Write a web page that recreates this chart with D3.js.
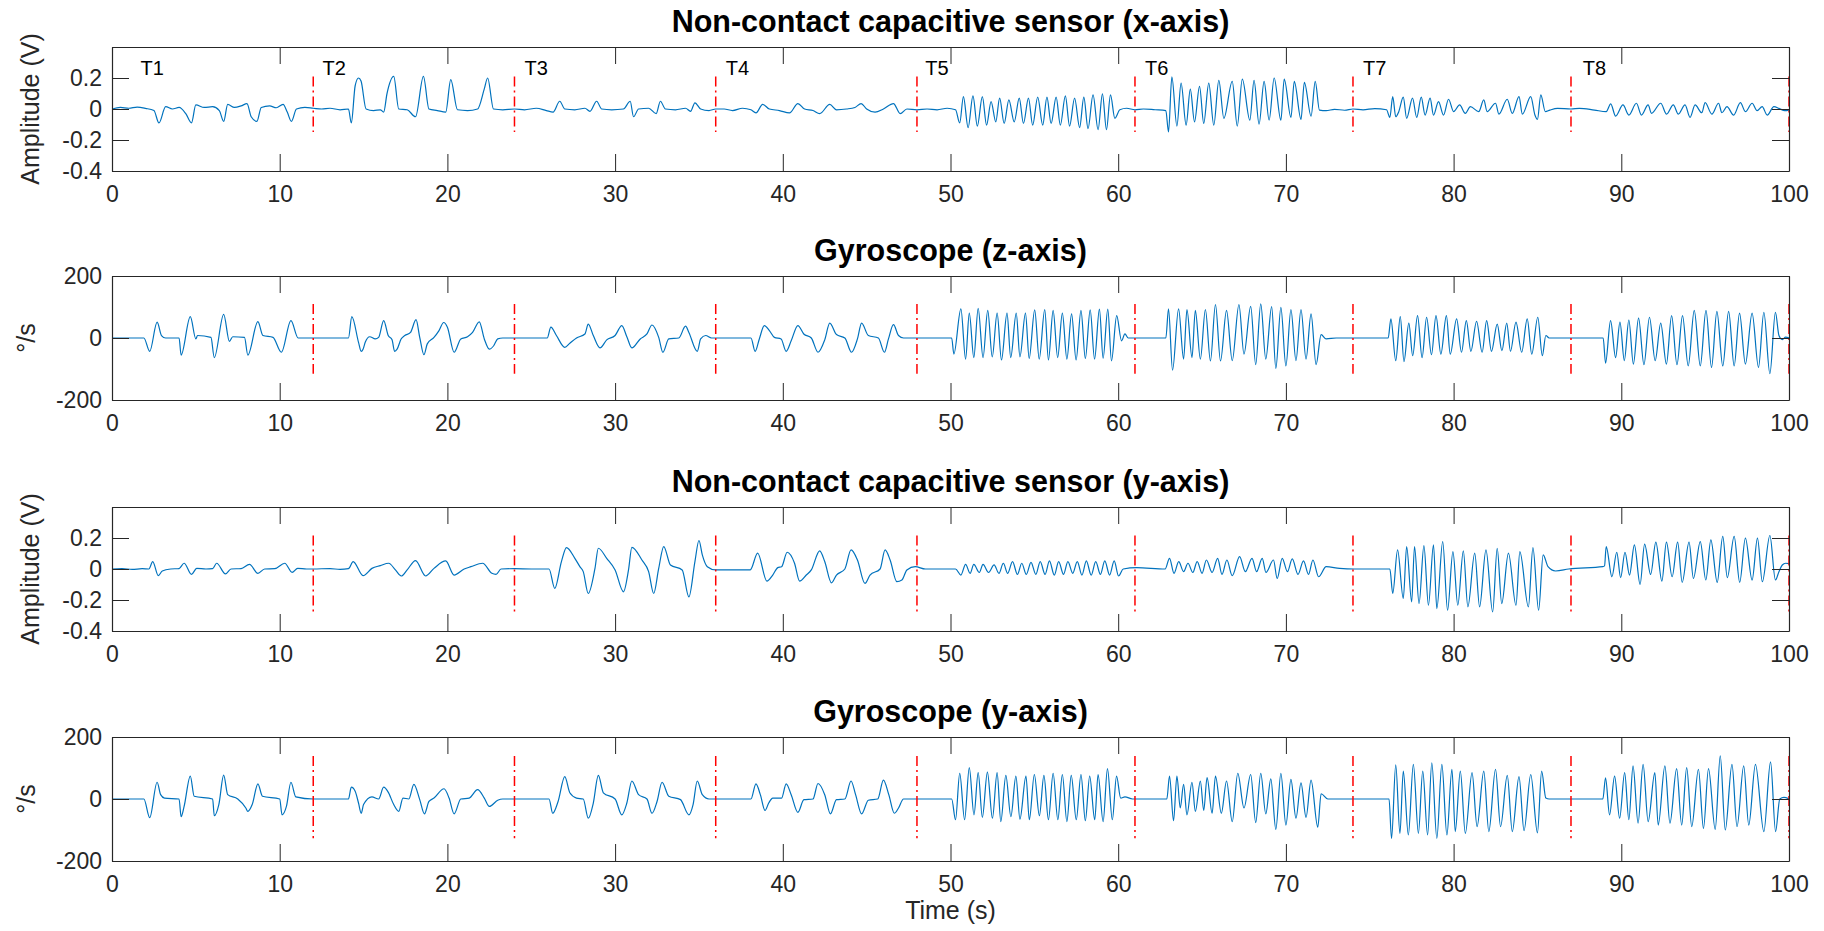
<!DOCTYPE html>
<html>
<head>
<meta charset="utf-8">
<script src="https://cdn.jsdelivr.net/npm/d3@7"></script>
<style>
    body { margin: 0; background: #ffffff; }
    text { font-family: "Liberation Sans", Arial, Helvetica, sans-serif; }
</style>
</head>
<body>
<div id="sensor_chart"></div>
<script>

//time ticks and trial boundaries (s)
const timeTicks = [0, 10, 20, 30, 40, 50, 60, 70, 80, 90, 100];
const trialBounds = [0, 12, 24, 36, 48, 61, 74, 87, 100];
const trialNames = ["T1", "T2", "T3", "T4", "T5", "T6", "T7", "T8"];
const trialNameX = [1.7, 12.55, 24.6, 36.6, 48.5, 61.6, 74.6, 87.7];

const panelTitles = [
    "Non-contact capacitive sensor (x-axis)",
    "Gyroscope (z-axis)",
    "Non-contact capacitive sensor (y-axis)",
    "Gyroscope (y-axis)"
];
const panelLabels = ["Amplitude (V)", "\u00B0/s", "Amplitude (V)", "\u00B0/s"];
const voltTicks = [-0.4, -0.2, 0, 0.2];
const gyroTicks = [-200, 0, 200];

//signals, [time (s), value]
const capX = [
    [0,0],[0.5,0.01],[1,0.005],[1.5,0.012],[2,0.004],[2.5,-0.01],[2.8,-0.09],[3.2,0.015],[3.6,0],[4,0.01],
    [4.4,-0.03],[4.74,-0.09],[5,0.026],[5.5,0.01],[6,0.015],[6.4,-0.01],[6.66,-0.08],[6.9,0.03],[7.3,0.01],[7.7,0.02],
    [8.05,0.035],[8.3,-0.05],[8.64,-0.08],[8.9,0.01],[9.4,0.02],[9.8,0.008],[10.2,0.03],[10.45,-0.02],[10.7,-0.08],[11,0],
    [11.5,0.01],[12,0.005],[12.5,0],[13,0.005],[13.6,-0.005],[14.1,0],[14.27,-0.09],[14.5,0.15],[14.7,0.2],[14.85,0.18],
    [15.15,0],[15.6,-0.01],[16,-0.005],[16.2,-0.02],[16.4,0.1],[16.8,0.21],[17.1,0],[17.6,-0.005],[18.1,-0.05],[18.57,0.21],
    [18.9,0],[19.4,-0.01],[19.9,-0.02],[20.2,0.19],[20.6,-0.005],[21.2,-0.01],[21.8,0],[22.2,0.13],[22.4,0.2],[22.75,0],
    [23.3,-0.005],[24,0],[24.6,-0.005],[25.3,0.005],[25.9,-0.01],[26.3,-0.02],[26.7,0.05],[27,0],[27.6,-0.005],[28.2,0.005],
    [28.5,-0.015],[28.9,0.05],[29.2,0],[29.8,-0.005],[30.5,0],[30.9,0.05],[31.1,-0.05],[31.4,0],[32,0.005],[32.45,-0.03],
    [32.7,0.05],[33,0],[33.6,-0.005],[34.2,0.005],[34.5,-0.015],[34.76,0.04],[35.1,0],[35.6,-0.01],[36,0],[36.5,0],
    [37,-0.01],[37.6,0.005],[38.1,-0.005],[38.4,-0.025],[38.8,0.03],[39.2,0],[39.8,-0.01],[40.4,-0.025],[40.9,0.035],[41.3,0],
    [41.8,-0.01],[42.2,-0.03],[42.8,0.03],[43.2,-0.005],[43.8,0],[44.3,0.01],[44.67,0.035],[45,0],[45.5,-0.02],[46,0],
    [46.6,0.035],[47,-0.03],[47.4,0],[48,-0.005],[48.6,0],[49.2,-0.005],[49.8,0.005],[50.3,-0.005],[50.55,-0.09],[50.77,0.08],
    [51.05,-0.12],[51.34,0.085],[51.6,-0.11],[51.9,0.08],[52.15,-0.104],[52.42,0.048],[52.7,-0.083],[52.93,0.07],[53.2,-0.093],[53.48,0.059],
    [53.8,-0.083],[54.1,0.07],[54.35,-0.093],[54.65,0.07],[54.9,-0.104],[55.2,0.076],[55.5,-0.104],[55.75,0.076],[56,-0.093],[56.3,0.076],
    [56.55,-0.104],[56.85,0.085],[57.1,-0.11],[57.4,0.07],[57.7,-0.12],[57.95,0.076],[58.2,-0.126],[58.5,0.091],[58.8,-0.133],[59.06,0.098],
    [59.3,-0.133],[59.54,0.091],[59.8,-0.06],[60.1,-0.005],[60.5,0.005],[61,-0.005],[61.5,0],[62.2,-0.005],[62.84,-0.01],[63,-0.148],
    [63.2,0.207],[63.5,-0.11],[63.75,0.167],[64.05,-0.104],[64.3,0.128],[64.55,-0.083],[64.85,0.146],[65.1,-0.093],[65.4,0.167],[65.7,-0.104],
    [66,0.185],[66.3,-0.06],[66.8,0.178],[67.1,-0.11],[67.4,0.193],[67.85,-0.072],[68.1,0.185],[68.4,-0.098],[68.7,0.178],[69,-0.072],
    [69.3,0.2],[69.7,-0.072],[69.9,0.193],[70.3,-0.054],[70.5,0.178],[70.9,-0.067],[71.1,0.172],[71.5,-0.046],[71.75,0.178],[72,-0.007],
    [72.4,-0.011],[72.9,-0.002],[73.5,-0.008],[74,0],[74.6,-0.005],[75.3,0.003],[76,-0.005],[76.2,-0.054],[76.37,0.08],[76.55,-0.05],
    [76.73,-0.017],[77,0.076],[77.2,-0.06],[77.55,0.07],[77.8,-0.054],[78.07,0.076],[78.3,-0.039],[78.6,0.07],[78.8,-0.039],[79.1,0.048],
    [79.4,-0.039],[79.7,0.063],[80,-0.017],[80.36,0.026],[80.7,-0.028],[81,0.015],[81.5,-0.017],[81.8,0.059],[82,-0.017],[82.5,0.037],
    [82.7,-0.033],[83.2,0.063],[83.5,-0.028],[83.9,0.08],[84.1,-0.033],[84.6,0.08],[84.85,-0.039],[85,-0.067],[85.2,0.091],[85.47,-0.017],
    [85.74,-0.007],[86.2,0.004],[87,0],[87.5,0.004],[88.4,-0.007],[89.1,-0.017],[89.37,0.033],[89.66,-0.046],[90.1,0.026],[90.45,-0.039],
    [90.9,0.037],[91.2,-0.039],[91.6,0.026],[91.8,-0.028],[92.35,0.037],[92.7,-0.033],[93.1,0.026],[93.4,-0.033],[93.8,0.026],[94.1,-0.054],
    [94.4,0.026],[94.8,-0.024],[95,0.041],[95.4,-0.033],[95.8,0.037],[96,-0.024],[96.3,0.015],[96.7,-0.039],[97.1,0.041],[97.4,-0.017],
    [97.8,0.037],[98.1,-0.011],[98.4,0.015],[98.7,-0.039],[99.1,0.015],[99.4,0.004],[99.75,-0.011],[100,-0.007]
];

const gyroZ = [
    [0,0],[1.9,0],[2.25,-43],[2.69,51],[2.95,8],[3.2,0],[4,0],[4.12,-55],[4.67,69],[5,-3],
    [5.1,8],[5.9,2],[6.1,-63],[6.66,76],[7,-11],[7.2,4],[7.9,2],[8.1,-55],[8.7,53],[9,8],
    [9.6,2],[10.1,-46],[10.67,56],[11.1,0],[14.1,0],[14.3,69],[14.7,-14],[14.86,-43],[14.97,-36],[15.1,-14],
    [15.37,4],[15.7,-3],[15.9,2],[16.2,56],[16.47,8],[16.7,-6],[16.85,-43],[17,-36],[17.24,-3],[17.46,8],
    [17.8,18],[18.13,59],[18.35,2],[18.6,-54],[18.8,-19],[19.2,2],[19.5,24],[19.78,50],[20,35],[20.4,-46],
    [20.8,-3],[21.2,4],[21.5,18],[21.9,52],[22.2,-3],[22.5,-36],[22.76,-25],[23,-3],[23.3,0],[25.95,0],
    [26.17,35],[26.5,8],[27,-30],[27.3,-17],[27.7,0],[28.2,13],[28.4,45],[28.7,8],[29.1,-32],[29.5,-6],
    [30,8],[30.4,40],[30.7,4],[31,-32],[31.5,-3],[31.9,13],[32.2,42],[32.6,2],[32.85,-46],[33.2,-3],
    [33.8,0],[34.2,38],[34.4,18],[34.9,-43],[35.1,-3],[35.4,8],[35.75,0],[38.1,0],[38.35,-43],[38.6,-3],
    [38.9,40],[39.2,24],[39.5,2],[39.9,-3],[40.2,-43],[40.5,-9],[40.9,40],[41.25,13],[41.7,0],[42.1,-46],
    [42.5,-6],[42.8,48],[43.2,11],[43.7,0],[44.1,-46],[44.45,-3],[44.7,48],[45.1,8],[45.7,0],[46.06,-46],
    [46.3,-3],[46.6,43],[46.9,8],[47.2,0],[50.07,0],[50.2,-52],[50.62,94],[50.9,-68],[51.12,80],[51.39,-63],
    [51.65,96],[51.94,-63],[52.22,89],[52.49,-61],[52.78,80],[53.04,-71],[53.37,80],[53.59,-63],[53.92,80],[54.14,-61],
    [54.47,80],[54.69,-66],[55.02,91],[55.29,-68],[55.62,92],[55.84,-71],[56.12,89],[56.39,-63],[56.67,80],[56.94,-68],
    [57.22,78],[57.49,-71],[57.78,89],[58.04,-66],[58.33,91],[58.59,-68],[58.88,93],[59.1,-65],[59.38,93],[59.6,-74],
    [59.91,72],[60.2,-9],[60.4,13],[60.6,0],[62.84,0],[63,94],[63.24,-104],[63.6,94],[63.9,-68],[64.1,92],
    [64.4,-63],[64.6,89],[64.9,-68],[65.2,92],[65.5,-74],[65.8,108],[66.1,-74],[66.46,89],[66.8,-73],[67.2,108],
    [67.5,-52],[67.9,102],[68.2,-86],[68.5,110],[68.8,-68],[69.15,101],[69.4,-98],[69.7,99],[70,-90],[70.3,92],
    [70.6,-73],[70.9,92],[71.2,-68],[71.5,78],[71.8,-86],[72.1,11],[72.4,-3],[73,0],[76.1,0],[76.26,62],
    [76.55,-73],[76.82,69],[77.04,-76],[77.33,48],[77.56,-57],[77.85,72],[78.12,-63],[78.39,67],[78.68,-54],[78.95,72],
    [79.24,-52],[79.57,72],[79.8,-52],[80.18,62],[80.47,-46],[80.76,56],[81.03,-43],[81.37,54],[81.7,-46],[81.97,56],
    [82.26,-43],[82.6,45],[82.88,-41],[83.17,48],[83.39,-43],[83.72,51],[84.06,-46],[84.39,62],[84.66,-52],[85.02,67],
    [85.29,-57],[85.5,8],[85.7,0],[88.92,0],[89.06,-81],[89.36,56],[89.66,-63],[89.92,51],[90.18,-73],[90.45,58],
    [90.72,-84],[91.03,64],[91.35,-86],[91.68,67],[92.02,-73],[92.35,48],[92.69,-84],[93,72],[93.32,-86],[93.65,72],
    [93.99,-90],[94.35,89],[94.71,-90],[95.05,89],[95.38,-95],[95.7,86],[96.05,-90],[96.4,86],[96.73,-90],[97.05,80],
    [97.4,-84],[97.8,80],[98.18,-95],[98.5,83],[98.86,-115],[99.19,83],[99.4,8],[99.6,-5],[99.8,3],[100,0]
];

const capY = [
    [0,0],[0.6,0.003],[1.2,-0.003],[1.8,0.002],[2.2,0],[2.43,0.048],[2.76,-0.043],[3,-0.013],[3.5,0],[4,0.003],
    [4.3,0.037],[4.74,-0.035],[5.05,0.004],[5.6,0],[6,0.003],[6.24,0.037],[6.77,-0.032],[7.1,0],[7.7,0.003],[8.2,0.03],
    [8.7,-0.028],[9.1,0],[9.7,0.002],[10.3,0.037],[10.74,-0.022],[11.07,0.004],[11.6,0],[12,0],[13,0.003],[13.6,-0.003],
    [14.1,0.002],[14.38,0.048],[14.97,-0.043],[15.5,0.004],[16,0.022],[16.5,0.037],[16.9,-0.006],[17.25,-0.045],[17.6,-0.006],[18.1,0.054],
    [18.7,-0.045],[19.2,0.004],[19.9,0.052],[20.4,-0.039],[21,0],[21.4,0.015],[22.1,0.037],[22.65,-0.028],[22.9,-0.035],[23.2,0],
    [24,0.002],[25,0],[26.06,0],[26.4,-0.125],[26.8,0.048],[27.1,0.138],[27.6,0.069],[27.9,0.015],[28.1,-0.017],[28.4,-0.158],
    [28.8,0.004],[29,0.134],[29.5,0.069],[30,-0.006],[30.5,-0.147],[30.8,-0.006],[31,0.14],[31.6,0.058],[32,-0.017],[32.3,-0.158],
    [32.6,0.004],[32.9,0.145],[33.3,0.026],[34,-0.006],[34.4,-0.18],[34.76,0.048],[35,0.184],[35.2,0.091],[35.5,0.015],[36,-0.006],
    [37,-0.005],[38.06,-0.005],[38.5,0.102],[39.05,-0.078],[39.4,-0.039],[39.7,0.009],[39.93,0.015],[40.26,0.108],[40.7,0.037],[41,-0.078],
    [41.4,-0.039],[41.7,-0.006],[42.2,0.117],[42.5,0.048],[42.9,-0.089],[43.2,-0.039],[43.7,0],[44.07,0.123],[44.45,0.058],[44.9,-0.093],
    [45.2,-0.039],[45.8,0],[46.1,0.123],[46.4,0.058],[46.8,-0.082],[47.1,-0.071],[47.4,-0.006],[47.9,0.015],[48.5,0],[50.3,0],
    [50.62,-0.039],[50.9,0.03],[51.17,-0.028],[51.39,0.03],[51.72,-0.022],[51.94,0.03],[52.27,-0.022],[52.6,0.026],[52.89,-0.028],[53.15,0.037],
    [53.41,-0.028],[53.7,0.048],[53.99,-0.035],[54.25,0.037],[54.52,-0.035],[54.8,0.043],[55.09,-0.035],[55.35,0.048],[55.64,-0.035],[55.9,0.052],
    [56.19,-0.039],[56.45,0.048],[56.74,-0.035],[57,0.048],[57.29,-0.028],[57.56,0.048],[57.84,-0.039],[58.1,0.052],[58.39,-0.039],[58.66,0.048],
    [58.94,-0.035],[59.2,0.052],[59.49,-0.039],[59.76,0.052],[60.02,-0.045],[60.3,0],[61.1,0.009],[62.8,0],[63.06,0.069],[63.33,-0.028],
    [63.61,0.048],[63.9,-0.017],[64.16,0.037],[64.45,-0.022],[64.71,0.048],[65,-0.028],[65.26,0.058],[65.6,-0.022],[65.93,0.069],[66.19,-0.035],
    [66.48,0.058],[66.8,-0.043],[67.24,0.08],[67.58,-0.017],[67.98,0.069],[68.25,-0.017],[68.59,0.069],[68.81,-0.022],[69.26,0.058],[69.48,-0.061],
    [69.78,0.069],[70.09,-0.017],[70.38,0.065],[70.72,-0.035],[71.05,0.052],[71.35,-0.035],[71.61,0.058],[71.95,-0.05],[72.4,0.015],[73.2,0.004],
    [74.1,0],[76.2,0],[76.37,-0.158],[76.66,0.123],[77,-0.19],[77.2,0.145],[77.5,-0.212],[77.67,0.145],[77.94,-0.223],[78.23,0.151],
    [78.5,-0.234],[78.8,0.156],[79,-0.255],[79.35,0.177],[79.64,-0.266],[79.96,0.112],[80.25,-0.234],[80.58,0.117],[80.85,-0.244],[81.26,0.102],
    [81.55,-0.244],[81.93,0.123],[82.33,-0.277],[82.6,0.134],[82.87,-0.223],[83.27,0.102],[83.72,-0.234],[83.95,0.112],[84.46,-0.244],[84.73,0.138],
    [85.07,-0.266],[85.34,0.091],[85.63,0.015],[86.08,-0.013],[86.86,0],[88.9,0.015],[89,0.02],[89.1,0.145],[89.44,-0.05],[89.73,0.108],
    [89.96,-0.056],[90.22,0.108],[90.49,-0.039],[90.78,0.156],[91.12,-0.099],[91.39,0.16],[91.75,-0.035],[92.06,0.173],[92.42,-0.078],[92.69,0.173],
    [93.03,-0.05],[93.36,0.173],[93.63,-0.086],[94.04,0.173],[94.3,-0.061],[94.71,0.177],[95.04,-0.071],[95.34,0.188],[95.72,-0.086],[96.05,0.21],
    [96.32,-0.056],[96.73,0.21],[97.06,-0.086],[97.4,0.199],[97.8,-0.071],[98.12,0.199],[98.41,-0.082],[98.86,0.216],[99.19,-0.071],[99.4,-0.017],
    [99.6,0.026],[99.8,0.037],[100,0.035]
];

const gyroY = [
    [0,0],[1.9,0],[2.25,-60],[2.69,54],[2.9,14],[3.13,3],[4,0],[4.12,-57],[4.3,-24],[4.67,74],
    [4.9,9],[6,0],[6.1,-54],[6.37,-18],[6.66,77],[6.9,14],[7.5,0],[7.98,-29],[8.1,-40],[8.36,-18],
    [8.7,49],[8.97,9],[10,0],[10.14,-51],[10.4,-24],[10.67,54],[10.96,7],[12,0],[14.1,0],[14.27,38],
    [14.5,25],[14.7,-13],[14.86,-46],[15,-18],[15.5,7],[15.9,0],[16.2,38],[16.47,22],[16.8,-18],[17.1,-40],
    [17.35,3],[17.7,0],[18,47],[18.35,-2],[18.63,-48],[18.9,-8],[19.2,3],[19.8,33],[20.1,3],[20.4,-48],
    [20.8,0],[21.3,3],[21.8,30],[22.2,3],[22.5,-24],[23,-4],[23.3,0],[26.06,0],[26.28,-46],[26.6,-8],
    [27,72],[27.3,20],[27.7,3],[28.1,0],[28.4,-62],[28.7,-13],[29,76],[29.3,20],[30,0],[30.4,-51],
    [30.7,-13],[31,58],[31.4,14],[31.9,0],[32.2,-46],[32.5,-8],[32.8,54],[33.2,9],[33.9,-2],[34.4,-51],
    [34.65,-18],[34.9,58],[35.2,14],[35.6,0],[38.1,0],[38.4,49],[38.66,14],[38.94,-37],[39.16,-13],[39.4,3],
    [39.93,3],[40.2,49],[40.5,14],[40.9,-43],[41.26,-2],[41.8,0],[42.1,50],[42.5,14],[42.84,-48],[43.2,-2],
    [43.7,0],[44.07,58],[44.34,14],[44.7,-48],[45.1,-4],[45.66,0],[46,61],[46.32,14],[46.65,-46],[46.9,-29],
    [47.2,0],[50.07,0],[50.3,-67],[50.55,83],[50.84,-67],[51.12,101],[51.4,-51],[51.65,85],[51.9,-59],[52.2,87],
    [52.5,-62],[52.78,85],[53,-73],[53.3,76],[53.6,-57],[53.9,74],[54.14,-65],[54.5,74],[54.7,-67],[55,79],
    [55.3,-54],[55.57,76],[55.84,-67],[56.12,83],[56.4,-67],[56.67,79],[56.94,-73],[57.2,76],[57.5,-67],[57.78,79],
    [58.04,-70],[58.3,74],[58.6,-67],[58.8,79],[59.1,-73],[59.36,98],[59.65,-67],[59.9,74],[60.15,3],[60.4,7],
    [60.85,0],[62.9,0],[63.06,74],[63.3,-70],[63.5,74],[63.7,-29],[63.9,47],[64.1,-51],[64.4,54],[64.6,-40],
    [64.9,58],[65.1,-37],[65.3,69],[65.6,-46],[65.8,74],[66.15,-46],[66.46,58],[66.8,-73],[67.13,83],[67.5,-29],
    [67.9,79],[68.2,-76],[68.5,83],[68.8,-48],[69.1,65],[69.4,-98],[69.7,83],[70,-84],[70.3,63],[70.6,-62],
    [70.9,52],[71.2,-59],[71.5,61],[71.9,-91],[72.1,17],[72.5,0],[76.15,0],[76.3,-127],[76.55,110],[76.8,-111],
    [77,90],[77.3,-116],[77.6,112],[77.9,-111],[78.16,90],[78.45,-116],[78.7,117],[79,-127],[79.3,112],[79.6,-116],
    [79.9,96],[80.1,-105],[80.4,90],[80.7,-111],[81.1,85],[81.4,-89],[81.8,90],[82.1,-105],[82.5,96],[82.8,-89],
    [83.2,76],[83.5,-105],[83.9,72],[84.2,-102],[84.6,79],[85,-109],[85.25,90],[85.5,3],[85.7,0],[88.9,0],
    [89.06,68],[89.3,-51],[89.6,74],[89.9,-62],[90.2,85],[90.45,-67],[90.7,107],[91,-78],[91.3,112],[91.6,-73],
    [92,85],[92.2,-84],[92.6,107],[92.9,-78],[93.3,98],[93.6,-84],[93.9,101],[94.2,-89],[94.6,96],[94.9,-95],
    [95.2,98],[95.6,-98],[95.9,139],[96.2,-100],[96.6,112],[96.9,-89],[97.3,107],[97.6,-84],[98,112],[98.5,-105],
    [98.9,120],[99.2,-105],[99.45,0],[99.7,5],[100,0]
];

//layout
const width = 1824;
const height = 931;
const margin = { left: 112, right: 35 };
const panelTops = [47, 276, 507, 737];
const panelHeight = 124;
const tickLen = 17;
const axisColor = "#262626";
const fontFamily = "'Liberation Sans', Arial, Helvetica, sans-serif";

const svg = d3.select("#sensor_chart")
    .append("svg")
    .attr("width", width)
    .attr("height", height);

const xScale = d3.scaleLinear()
    .domain([0, 100])
    .range([margin.left, width - margin.right]);

//format with a plain hyphen like the original
function voltFormat(d) {
    return d === 0 ? "0" : d.toFixed(1);
}
function gyroFormat(d) {
    return String(d);
}

const panels = [
    { data: capX, domain: [-0.4, 0.4], ticks: voltTicks, format: voltFormat, labelX: 39 },
    { data: gyroZ, domain: [-200, 200], ticks: gyroTicks, format: gyroFormat, labelX: 35 },
    { data: capY, domain: [-0.4, 0.4], ticks: voltTicks, format: voltFormat, labelX: 39 },
    { data: gyroY, domain: [-200, 200], ticks: gyroTicks, format: gyroFormat, labelX: 35 }
];

panels.forEach(function(p, i) {
    drawPanel(p, i);
});

function drawPanel(p, i) {
    const top = panelTops[i];
    const bottom = top + panelHeight;
    const left = xScale.range()[0];
    const right = xScale.range()[1];

    const yScale = d3.scaleLinear()
        .domain(p.domain)
        .range([bottom, top]);

    const g = svg.append("g");

    //clip so nothing leaks outside the box
    g.append("clipPath")
        .attr("id", "clip" + i)
        .append("rect")
        .attr("x", left)
        .attr("y", top)
        .attr("width", right - left)
        .attr("height", panelHeight);

    const plot = g.append("g").attr("clip-path", "url(#clip" + i + ")");

    //signal
    const line = d3.line()
        .x(function(d) { return xScale(d[0]); })
        .y(function(d) { return yScale(d[1]); })
        .curve(d3.curveMonotoneX);

    plot.append("path")
        .datum(p.data)
        .attr("fill", "none")
        .attr("stroke", "#0072bd")
        .attr("stroke-width", 1.2)
        .attr("stroke-linejoin", "round")
        .attr("d", line);

    //trial boundaries go from signal min to max
    const ext = d3.extent(p.data, function(d) { return d[1]; });

    plot.selectAll(".bound")
        .data(trialBounds)
        .enter()
        .append("line")
        .attr("x1", function(d) { return xScale(d); })
        .attr("x2", function(d) { return xScale(d); })
        .attr("y1", yScale(ext[1]))
        .attr("y2", yScale(ext[0]))
        .attr("stroke", "#ff0000")
        .attr("stroke-width", 1.5)
        .attr("stroke-dasharray", "10,4,2,4");

    //axes, matlab style ticks inside on all four sides
    const bottomAxis = g.append("g")
        .attr("transform", "translate(0," + bottom + ")")
        .call(d3.axisBottom(xScale).tickValues(timeTicks).tickSize(-tickLen).tickSizeOuter(0).tickPadding(15));

    const topAxis = g.append("g")
        .attr("transform", "translate(0," + top + ")")
        .call(d3.axisTop(xScale).tickValues(timeTicks).tickSize(-tickLen).tickSizeOuter(0).tickFormat(""));

    const leftAxis = g.append("g")
        .attr("transform", "translate(" + left + ",0)")
        .call(d3.axisLeft(yScale).tickValues(p.ticks).tickSize(-tickLen).tickSizeOuter(0).tickPadding(10).tickFormat(p.format));

    const rightAxis = g.append("g")
        .attr("transform", "translate(" + right + ",0)")
        .call(d3.axisRight(yScale).tickValues(p.ticks).tickSize(-tickLen).tickSizeOuter(0).tickFormat(""));

    [bottomAxis, topAxis, leftAxis, rightAxis].forEach(function(a) {
        a.attr("color", axisColor)
            .attr("font-family", fontFamily)
            .attr("font-size", 23);
        a.selectAll("line").attr("stroke-width", 1);
        a.selectAll(".domain").attr("stroke-width", 1.2);
    });

    //title
    svg.append("text")
        .attr("x", (left + right) / 2)
        .attr("y", top - 15)
        .attr("text-anchor", "middle")
        .attr("font-size", "30.5px")
        .attr("font-weight", "bold")
        .attr("fill", "#000")
        .text(panelTitles[i]);

    //y label
    svg.append("text")
        .attr("transform", "translate(" + p.labelX + "," + (top + panelHeight / 2) + ") rotate(-90)")
        .attr("text-anchor", "middle")
        .attr("font-size", "25px")
        .attr("fill", axisColor)
        .text(panelLabels[i]);

    //trial names only on the first panel
    if (i === 0) {
        svg.selectAll(".trialName")
            .data(trialNames)
            .enter()
            .append("text")
            .attr("x", function(d, k) { return xScale(trialNameX[k]); })
            .attr("y", top + 28)
            .attr("font-size", "20px")
            .attr("fill", "#000")
            .text(function(d) { return d; });
    }
}

//x label
svg.append("text")
    .attr("x", (xScale.range()[0] + xScale.range()[1]) / 2)
    .attr("y", panelTops[3] + panelHeight + 58)
    .attr("text-anchor", "middle")
    .attr("font-size", "25px")
    .attr("fill", axisColor)
    .text("Time (s)");

</script>
</body>
</html>
